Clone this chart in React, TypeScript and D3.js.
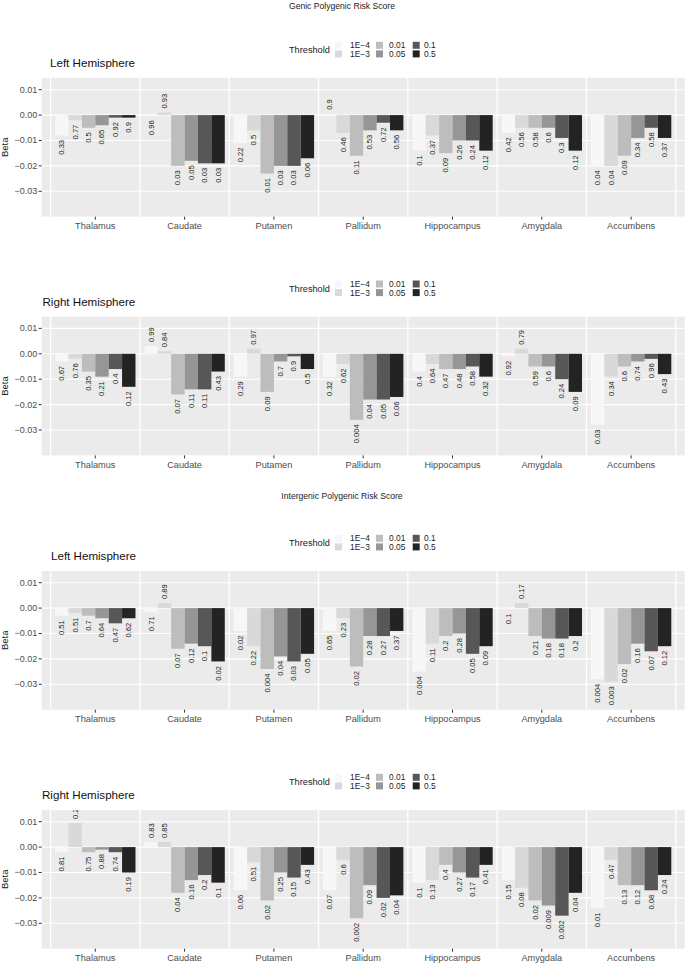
import React from "react";
import * as d3 from "d3";

const regions = ["Thalamus", "Caudate", "Putamen", "Pallidum", "Hippocampus", "Amygdala", "Accumbens"];
const thresholds = ["1E\u22124", "1E\u22123", "0.01", "0.05", "0.1", "0.5"];
const thresholdColors = ["#f7f7f7", "#d9d9d9", "#bdbdbd", "#969696", "#575757", "#232323"];
const yTicks = [0.01, 0.0, -0.01, -0.02, -0.03];
const yTickLabels = ["0.01", "0.00", "\u22120.01", "\u22120.02", "\u22120.03"];

const genicLeftBeta = [
  [-0.008, -0.002, -0.005, -0.004, -0.001, -0.001],
  [-0.0003, 0.001, -0.02, -0.018, -0.019, -0.019],
  [-0.011, -0.006, -0.023, -0.02, -0.02, -0.017],
  [0.0005, -0.007, -0.016, -0.006, -0.003, -0.006],
  [-0.014, -0.008, -0.015, -0.01, -0.01, -0.014],
  [-0.007, -0.005, -0.005, -0.005, -0.009, -0.014],
  [-0.02, -0.02, -0.016, -0.009, -0.005, -0.009],
];
const genicLeftP = [
  ["0.33", "0.77", "0.5", "0.65", "0.92", "0.9"],
  ["0.96", "0.93", "0.03", "0.05", "0.03", "0.03"],
  ["0.22", "0.5", "0.01", "0.03", "0.03", "0.06"],
  ["0.9", "0.46", "0.11", "0.53", "0.72", "0.56"],
  ["0.1", "0.37", "0.09", "0.26", "0.24", "0.12"],
  ["0.42", "0.56", "0.58", "0.6", "0.3", "0.12"],
  ["0.04", "0.04", "0.09", "0.34", "0.58", "0.37"],
];

const genicRightBeta = [
  [-0.003, -0.002, -0.007, -0.009, -0.006, -0.013],
  [0.003, 0.001, -0.016, -0.014, -0.014, -0.007],
  [-0.009, 0.002, -0.015, -0.003, -0.001, -0.006],
  [-0.009, -0.004, -0.026, -0.018, -0.018, -0.017],
  [-0.007, -0.004, -0.006, -0.006, -0.005, -0.009],
  [-0.001, 0.002, -0.005, -0.005, -0.01, -0.015],
  [-0.028, -0.009, -0.005, -0.003, -0.002, -0.008],
];
const genicRightP = [
  ["0.67", "0.76", "0.35", "0.21", "0.4", "0.12"],
  ["0.99", "0.84", "0.07", "0.11", "0.11", "0.43"],
  ["0.29", "0.97", "0.09", "0.7", "0.9", "0.5"],
  ["0.32", "0.62", "0.004", "0.04", "0.05", "0.06"],
  ["0.4", "0.64", "0.47", "0.48", "0.58", "0.32"],
  ["0.92", "0.79", "0.59", "0.6", "0.24", "0.09"],
  ["0.03", "0.34", "0.6", "0.74", "0.96", "0.43"],
];

const intergenicLeftBeta = [
  [-0.003, -0.002, -0.003, -0.004, -0.006, -0.004],
  [-0.0015, 0.002, -0.016, -0.014, -0.015, -0.021],
  [-0.009, -0.015, -0.024, -0.019, -0.021, -0.018],
  [-0.009, -0.004, -0.023, -0.011, -0.011, -0.009],
  [-0.025, -0.014, -0.011, -0.01, -0.018, -0.015],
  [-0.0004, 0.002, -0.011, -0.012, -0.012, -0.011],
  [-0.028, -0.029, -0.022, -0.014, -0.017, -0.015],
];
const intergenicLeftP = [
  ["0.51", "0.51", "0.7", "0.64", "0.47", "0.62"],
  ["0.71", "0.89", "0.07", "0.12", "0.1", "0.02"],
  ["0.02", "0.22", "0.004", "0.04", "0.03", "0.05"],
  ["0.65", "0.23", "0.02", "0.28", "0.27", "0.37"],
  ["0.004", "0.11", "0.2", "0.28", "0.05", "0.09"],
  ["0.1", "0.17", "0.21", "0.18", "0.18", "0.2"],
  ["0.004", "0.003", "0.02", "0.16", "0.07", "0.12"],
];

const intergenicRightBeta = [
  [-0.002, 0.0095, -0.002, -0.001, -0.002, -0.01],
  [0.002, 0.002, -0.018, -0.013, -0.011, -0.014],
  [-0.017, -0.006, -0.021, -0.01, -0.012, -0.007],
  [-0.017, -0.005, -0.028, -0.015, -0.02, -0.019],
  [-0.014, -0.013, -0.007, -0.01, -0.012, -0.007],
  [-0.013, -0.016, -0.021, -0.023, -0.027, -0.018],
  [-0.024, -0.005, -0.015, -0.015, -0.017, -0.011],
];
const intergenicRightP = [
  ["0.81", "0.2", "0.75", "0.88", "0.74", "0.19"],
  ["0.83", "0.85", "0.04", "0.16", "0.2", "0.1"],
  ["0.06", "0.51", "0.02", "0.25", "0.15", "0.43"],
  ["0.07", "0.6", "0.002", "0.09", "0.02", "0.04"],
  ["0.1", "0.13", "0.4", "0.27", "0.17", "0.41"],
  ["0.15", "0.08", "0.02", "0.009", "0.002", "0.04"],
  ["0.01", "0.47", "0.13", "0.12", "0.08", "0.24"],
];

const FONT = "'Liberation Sans', Arial, Helvetica, sans-serif";
const PANEL_LEFT = 41.7;
const PANEL_RIGHT = 684.7;
const PANEL_H = 138.7;

type PanelProps = {
  id: string;
  top: number;
  title: string;
  titleX: number;
  beta: number[][];
  pvals: string[][];
};

function Panel({ id, top, title, titleX, beta, pvals }: PanelProps) {
  const x = d3.scaleLinear().domain([0.4, 7.6]).range([PANEL_LEFT, PANEL_RIGHT]);
  const dodge = d3.scaleBand<string>().domain(thresholds).range([-0.45, 0.45]);
  const y = d3.scaleLinear().domain([-0.04, 0.0146]).range([top + PANEL_H, top]);
  const unit = x(2) - x(1);
  const bw = dodge.bandwidth() * unit;
  const legendCols = [335, 376, 412.7];
  const legendLabelX = [350, 389, 424];
  return (
    <g>
      <defs>
        <clipPath id={id}>
          <rect x={PANEL_LEFT} y={top} width={PANEL_RIGHT - PANEL_LEFT} height={PANEL_H} />
        </clipPath>
      </defs>
      {/* legend */}
      <text x={289} y={top - 28} fontSize={9.2} fill="#222" dominantBaseline="central" fontFamily={FONT}>
        Threshold
      </text>
      {thresholds.map((t, i) => {
        const col = Math.floor(i / 2);
        const row = i % 2;
        const ky = top - 36.2 + row * 8.6;
        return (
          <g key={t}>
            <rect x={legendCols[col]} y={ky} width={7} height={7} fill={thresholdColors[i]} />
            <text x={legendLabelX[col]} y={ky + 3.6} fontSize={8.4} fill="#222" dominantBaseline="central" fontFamily={FONT}>
              {t}
            </text>
          </g>
        );
      })}
      <text x={titleX} y={top - 15.5} fontSize={11.6} fill="#111" dominantBaseline="central" fontFamily={FONT}>
        {title}
      </text>
      {/* panel background */}
      <rect x={PANEL_LEFT} y={top} width={PANEL_RIGHT - PANEL_LEFT} height={PANEL_H} fill="#ebebeb" />
      {yTicks.map((t) => (
        <line key={t} x1={PANEL_LEFT} x2={PANEL_RIGHT} y1={y(t)} y2={y(t)} stroke="#fff" strokeWidth={1.1} />
      ))}
      {d3.range(0.5, 8, 1).map((v) => (
        <line key={v} x1={x(v)} x2={x(v)} y1={top} y2={top + PANEL_H} stroke="#fff" strokeWidth={1.3} />
      ))}
      <g clipPath={`url(#${id})`}>
        {regions.map((r, ri) =>
          thresholds.map((t, ti) => {
            const v = beta[ri][ti];
            const bx = x(ri + 1) + (dodge(t) as number) * unit;
            const y0 = y(0);
            const y1 = y(v);
            return (
              <rect
                key={r + t}
                x={bx}
                y={Math.min(y0, y1)}
                width={bw}
                height={Math.max(Math.abs(y1 - y0), 0.4)}
                fill={thresholdColors[ti]}
              />
            );
          })
        )}
        {regions.map((r, ri) =>
          thresholds.map((t, ti) => {
            const v = beta[ri][ti];
            const cx = x(ri + 1) + (dodge(t) as number) * unit + bw / 2;
            const neg = v < 0;
            const ly = neg ? y(v) + 4.5 : y(v) - 4;
            return (
              <text
                key={"l" + r + t}
                transform={`translate(${cx},${ly}) rotate(-90)`}
                textAnchor={neg ? "end" : "start"}
                dominantBaseline="central"
                fontSize={7.6}
                fill="#222"
                fontFamily={FONT}
              >
                {pvals[ri][ti]}
              </text>
            );
          })
        )}
      </g>
      {/* y axis */}
      {yTicks.map((t, i) => (
        <g key={"yt" + t}>
          <line x1={PANEL_LEFT - 3} x2={PANEL_LEFT} y1={y(t)} y2={y(t)} stroke="#333" strokeWidth={1} />
          <text x={PANEL_LEFT - 4.5} y={y(t)} textAnchor="end" dominantBaseline="central" fontSize={9} fill="#4d4d4d" fontFamily={FONT}>
            {yTickLabels[i]}
          </text>
        </g>
      ))}
      <text
        transform={`translate(8,${top + PANEL_H / 2}) rotate(-90)`}
        textAnchor="middle"
        fontSize={9.5}
        fill="#222"
        fontFamily={FONT}
      >
        Beta
      </text>
      {/* x axis */}
      {regions.map((r, ri) => (
        <g key={"xt" + r}>
          <line x1={x(ri + 1)} x2={x(ri + 1)} y1={top + PANEL_H} y2={top + PANEL_H + 3} stroke="#333" strokeWidth={1} />
          <text x={x(ri + 1)} y={top + PANEL_H + 9.5} textAnchor="middle" dominantBaseline="central" fontSize={9.2} fill="#4d4d4d" fontFamily={FONT}>
            {r}
          </text>
        </g>
      ))}
    </g>
  );
}

export default function App() {
  return (
    <svg
      width={685}
      height={963}
      style={{ position: "absolute", left: 0, top: 0, background: "#fff" }}
    >
      <rect x={0} y={0} width={685} height={963} fill="#fff" />
      <text x={342} y={6} textAnchor="middle" dominantBaseline="central" fontSize={8.6} fill="#222" fontFamily={FONT}>
        Genic Polygenic Risk Score
      </text>
      <text x={342} y={496} textAnchor="middle" dominantBaseline="central" fontSize={8.6} fill="#222" fontFamily={FONT}>
        Intergenic Polygenic Risk Score
      </text>
      <Panel id="p1" top={78} title="Left Hemisphere" titleX={50} beta={genicLeftBeta} pvals={genicLeftP} />
      <Panel id="p2" top={316.7} title="Right Hemisphere" titleX={42.5} beta={genicRightBeta} pvals={genicRightP} />
      <Panel id="p3" top={571} title="Left Hemisphere" titleX={51} beta={intergenicLeftBeta} pvals={intergenicLeftP} />
      <Panel id="p4" top={810} title="Right Hemisphere" titleX={42} beta={intergenicRightBeta} pvals={intergenicRightP} />
    </svg>
  );
}
